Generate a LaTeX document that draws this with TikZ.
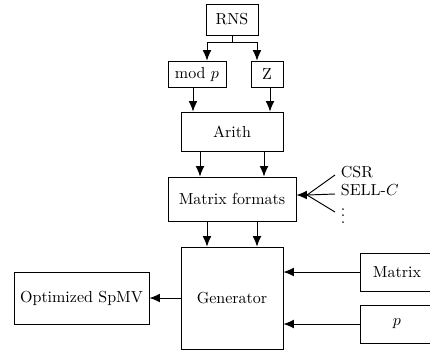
\documentclass[tikz,border=0pt]{standalone}
\usetikzlibrary{arrows.meta,calc}
\begin{document}
\begin{tikzpicture}[x=0.625pt,y=-0.625pt,
  box/.style={draw,line width=0.6pt,inner sep=1pt,align=center},
  arr/.style={line width=0.6pt,-{Latex[length=6.5pt,width=5.5pt]}},
  ln/.style={line width=0.6pt}]
\def\u{0.625pt}
\useasboundingbox (0,0) rectangle (430,351);
\node[box,minimum width=52*\u,minimum height=31*\u] (rns) at (232,19.5) {RNS};
\node[box,minimum width=58*\u,minimum height=26*\u] (modp) at (197,74) {mod $p$};
\node[box,minimum width=32*\u,minimum height=26*\u] (z) at (267,74) {Z};
\node[box,minimum width=102*\u,minimum height=39*\u] (arith) at (232,131.5) {Arith};
\node[box,minimum width=128*\u,minimum height=44*\u] (mf) at (232,199) {Matrix formats};
\node[box,minimum width=102*\u,minimum height=102*\u] (gen) at (232,298) {Generator};
\node[box,minimum width=135*\u,minimum height=52*\u] (spmv) at (81.5,298) {Optimized SpMV};
\node[box,minimum width=74*\u,minimum height=38*\u] (mat) at (397,272) {Matrix};
\node[box,minimum width=74*\u,minimum height=38*\u] (pp) at (397,324) {$p$};
\node[anchor=west,inner sep=1pt] (csr) at (339,172) {CSR};
\node[anchor=west,inner sep=1pt] (sell) at (339,190) {SELL-$C$};
\node[anchor=west,inner sep=1pt] (dots) at (339,211) {$\vdots$};
\coordinate (fan) at (307,195);
% RNS split
\draw[ln] (rns.south) -- ++(0,7) coordinate (sp);
\draw[arr] (sp) -| ($(modp.north -| rns.south)+(-25,0)$);
\draw[arr] (sp) -| ($(z.north -| rns.south)+(25,0)$);
% to Arith
\draw[arr] ($(modp.south)+(-4,0)$) -- ($(modp.south |- arith.north)+(-4,0)$);
\draw[arr] ($(z.south)+(3,0)$) -- ($(z.south |- arith.north)+(3,0)$);
% to Matrix formats
\draw[arr] ($(arith.south)+(-32,0)$) -- ($(arith.south |- mf.north)+(-32,0)$);
\draw[arr] ($(arith.south)+(32,0)$) -- ($(arith.south |- mf.north)+(32,0)$);
% to Generator
\draw[arr] ($(mf.south)+(-25,0)$) -- ($(mf.south |- gen.north)+(-25,0)$);
\draw[arr] ($(mf.south)+(25,0)$) -- ($(mf.south |- gen.north)+(25,0)$);
% fan
\draw[arr] (fan) -- (mf.east |- fan);
\draw[ln] (fan) -- ($(csr.west)+(-4,3)$);
\draw[ln] (fan) -- ($(sell.west)+(-4,4)$);
\draw[ln] (fan) -- ($(dots.west)+(-4,1)$);
% inputs
\draw[arr] (mat.west) -- (gen.east |- mat.west);
\draw[arr] (pp.west) -- (gen.east |- pp.west);
\draw[arr] (gen.west) -- (spmv.east);
\end{tikzpicture}
\end{document}
